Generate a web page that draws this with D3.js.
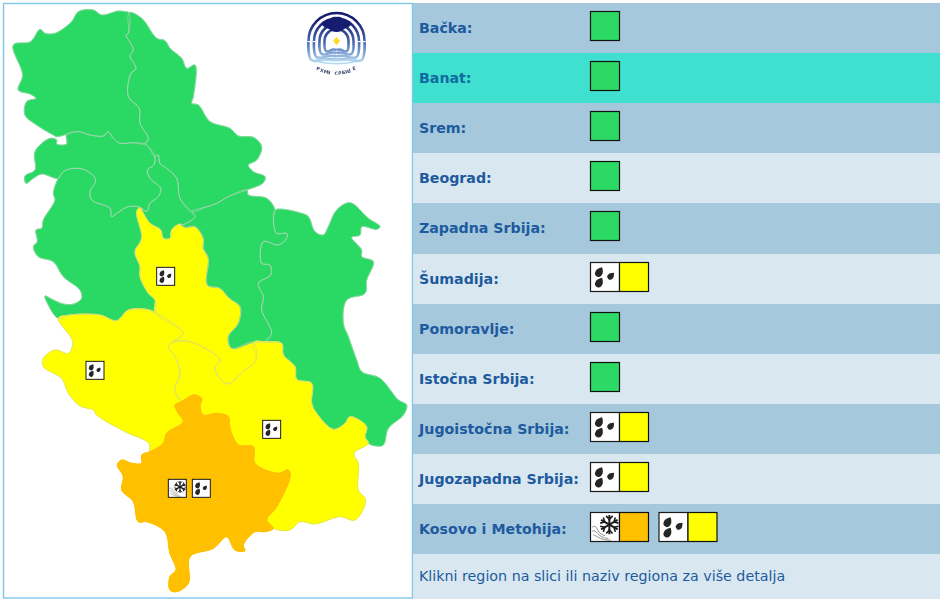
<!DOCTYPE html>
<html><head><meta charset="utf-8">
<script src="https://cdn.jsdelivr.net/npm/d3@7"></script>
<style>html,body{margin:0;padding:0;background:#fff;overflow:hidden}svg{display:block}</style>
</head><body><svg id="c" width="940" height="600"></svg>
<script>
// Outline data, in units of a 1245-wide survey of the map
const backa=[[387,38],[385,100],[378,105],[392,130],[400,150],[390,168],[408,205],[392,222],[385,290],[418,325],[420,370],[445,415],[435,432],[400,428],[360,430],[340,415],[325,395],[310,408],[270,405],[235,395],[200,403],[170,410],[160,405],[110,375],[75,345],[80,305],[108,295],[90,282],[55,270],[68,225],[40,135],[92,125],[120,88],[135,100],[165,100],[215,65],[235,35],[280,30],[305,45],[355,33],[375,35]];
const banat=[[387,38],[425,55],[470,115],[495,122],[510,145],[545,175],[560,205],[585,195],[580,290],[575,310],[595,315],[630,365],[690,385],[715,408],[760,412],[785,440],[770,480],[745,495],[760,515],[795,530],[790,548],[740,570],[685,590],[650,610],[615,622],[575,635],[540,595],[530,535],[500,505],[480,490],[475,465],[465,470],[445,440],[435,432],[445,415],[420,370],[418,325],[385,290],[392,222],[408,205],[390,168],[400,150],[392,130],[378,105],[385,100]];
const srem=[[435,432],[445,440],[465,470],[462,495],[442,510],[450,535],[482,565],[475,590],[450,610],[440,635],[420,622],[385,620],[350,640],[335,650],[330,625],[275,600],[270,575],[287,540],[260,512],[220,505],[190,515],[175,535],[125,522],[100,535],[78,550],[75,528],[105,510],[105,455],[150,415],[170,420],[170,432],[200,432],[200,403],[235,395],[270,405],[310,408],[325,395],[340,415],[360,430],[400,428]];
const beograd=[[465,470],[475,465],[480,490],[500,505],[530,535],[540,595],[575,635],[585,650],[545,675],[540,672],[515,690],[510,715],[490,715],[482,690],[450,670],[430,640],[420,622],[440,635],[450,610],[475,590],[482,565],[450,535],[442,510],[462,495]];
const zapadna=[[175,535],[160,580],[165,600],[130,660],[125,685],[108,690],[112,725],[100,740],[115,770],[160,785],[190,830],[240,870],[245,895],[222,912],[190,912],[160,900],[135,888],[140,905],[175,955],[210,945],[300,945],[350,962],[385,930],[440,928],[465,937],[465,900],[445,880],[420,830],[420,800],[405,755],[425,715],[410,635],[420,622],[385,620],[350,640],[335,650],[330,625],[275,600],[270,575],[287,540],[260,512],[220,505],[190,515]];
const sumadija=[[420,622],[430,640],[450,670],[482,690],[490,715],[510,715],[515,690],[540,672],[555,682],[585,680],[610,715],[610,745],[625,775],[622,855],[660,865],[688,895],[720,920],[715,970],[685,1010],[695,1045],[760,1027],[768,1080],[735,1110],[680,1152],[645,1105],[660,1080],[570,1025],[520,1025],[550,1000],[465,937],[465,900],[445,880],[420,830],[420,800],[405,755],[425,715],[410,635]];
const pomoravlje=[[575,635],[615,622],[650,610],[685,590],[740,570],[745,585],[800,595],[825,630],[820,660],[830,700],[860,700],[860,715],[835,735],[790,725],[785,790],[810,795],[812,825],[775,850],[790,890],[785,930],[815,1000],[795,1025],[760,1027],[695,1045],[685,1010],[715,970],[720,920],[688,895],[660,865],[622,855],[625,775],[610,745],[610,715],[585,680],[555,682],[540,672],[545,675],[585,650]];
const istocna=[[825,630],[905,640],[925,650],[945,695],[970,705],[985,680],[1010,630],[1050,608],[1105,655],[1140,680],[1130,688],[1085,680],[1080,705],[1055,712],[1085,750],[1085,770],[1120,785],[1100,840],[1095,880],[1040,900],[1030,970],[1045,1010],[1070,1080],[1085,1115],[1140,1135],[1195,1200],[1220,1215],[1210,1245],[1165,1285],[1150,1335],[1130,1338],[1105,1330],[1095,1310],[1100,1280],[1050,1250],[1035,1270],[1000,1288],[950,1240],[935,1210],[935,1150],[890,1138],[885,1100],[850,1065],[845,1030],[795,1025],[815,1000],[785,930],[790,890],[775,850],[812,825],[810,795],[785,790],[790,725],[835,735],[860,715],[860,700],[830,700],[820,660]];
const jugoistocna=[[520,1025],[505,1040],[525,1070],[540,1120],[525,1170],[545,1205],[580,1185],[605,1195],[600,1220],[610,1245],[650,1240],[685,1250],[690,1285],[715,1335],[760,1340],[765,1390],[835,1420],[865,1410],[870,1430],[830,1520],[800,1560],[820,1585],[870,1590],[900,1565],[945,1572],[1020,1550],[1065,1560],[1097,1500],[1075,1470],[1075,1390],[1062,1360],[1105,1330],[1095,1310],[1100,1280],[1050,1250],[1035,1270],[1000,1288],[950,1240],[935,1210],[935,1150],[890,1138],[885,1100],[850,1065],[845,1030],[795,1025],[760,1027],[768,1080],[735,1110],[680,1152],[645,1105],[660,1080],[570,1025]];
const jugozapadna=[[175,955],[210,945],[300,945],[350,962],[385,930],[440,928],[465,937],[550,1000],[520,1025],[505,1040],[525,1070],[540,1120],[525,1170],[545,1205],[525,1215],[535,1240],[550,1265],[500,1300],[490,1330],[450,1355],[447,1330],[375,1295],[290,1245],[280,1230],[240,1218],[205,1180],[185,1135],[130,1100],[130,1075],[165,1050],[205,1060],[218,1025]];
const kosovo=[[545,1205],[525,1215],[535,1240],[550,1265],[500,1300],[490,1330],[450,1355],[425,1365],[425,1390],[395,1390],[365,1380],[352,1395],[370,1430],[365,1470],[400,1505],[415,1565],[440,1565],[495,1595],[510,1660],[528,1710],[510,1730],[510,1770],[530,1775],[565,1750],[570,1670],[640,1645],[680,1610],[705,1650],[735,1652],[730,1635],[765,1595],[795,1595],[820,1585],[800,1560],[830,1520],[870,1430],[865,1410],[835,1420],[765,1390],[760,1340],[715,1335],[690,1285],[685,1250],[650,1240],[610,1245],[600,1220],[605,1195],[580,1185]];

const regionNames=["Bačka","Banat","Srem","Beograd","Zapadna Srbija","Šumadija","Pomoravlje","Istočna Srbija","Jugoistočna Srbija","Jugozapadna Srbija","Kosovo i Metohija"];
const regionShapes=[backa,banat,srem,beograd,zapadna,sumadija,pomoravlje,istocna,jugoistocna,jugozapadna,kosovo];
const regionLevels=[0,0,0,0,0,1,0,0,1,1,2];
const regionWarnings=[[],[],[],[],[],[["rain",1]],[],[],[["rain",1]],[["rain",1]],[["snow",2],["rain",1]]];
const mapIconAnchors=[null,null,null,null,null,[497,829],null,null,[815,1288],[285,1111],[532,1465]];
const highlightedRegion="Banat";
const footerText="Klikni region na slici ili naziv regiona za više detalja";
const logoCaption="РХМЗ СРБИЈЕ";

const levelColor=d3.scaleOrdinal().domain([0,1,2]).range(["#2bd964","#ffff00","#ffc000"]);
const svg=d3.select("#c");
const mx=d3.scaleLinear().domain([0,1245]).range([0,415]);
const my=d3.scaleLinear().domain([0,1800]).range([0,600]);
const line=d3.line().x(d=>mx(d[0])).y(d=>my(d[1])).curve(d3.curveCatmullRomClosed.alpha(.5));

const defs=svg.append("defs");
const lg=defs.append("linearGradient").attr("id","lg").attr("gradientUnits","userSpaceOnUse").attr("x1",0).attr("x2",0).attr("y1",20).attr("y2",62);
lg.append("stop").attr("offset",0).attr("stop-color","#141c70");
lg.append("stop").attr("offset",.55).attr("stop-color","#4a6db4");
lg.append("stop").attr("offset",1).attr("stop-color","#b4d8f0");
defs.append("filter").attr("id","soft").append("feGaussianBlur").attr("stdDeviation",.35);

// left frame
svg.append("rect").attr("x",3.5).attr("y",3.5).attr("width",409).attr("height",594.5).attr("fill","#fff").attr("stroke","#7fc6ea").attr("stroke-width",1.4);

// map
const mapG=svg.append("g").attr("filter","url(#soft)");
mapG.append("g").selectAll("path").data(regionShapes).join("path")
  .attr("d",d=>line(d))
  .attr("fill",(d,i)=>levelColor(regionLevels[i]))
  .attr("stroke",(d,i)=>levelColor(regionLevels[i]))
  .attr("stroke-width",.9).attr("stroke-linejoin","round");
mapG.append("g").selectAll("path").data(regionShapes).join("path")
  .attr("d",d=>line(d))
  .attr("fill","none")
  .attr("stroke",(d,i)=>regionLevels[i]===2?"none":regionLevels[i]===1?"#d4d48c":"#bcd4c0")
  .attr("stroke-width",.6);
mapG.append("path").attr("d",line(kosovo)).attr("fill",levelColor(2)).attr("stroke",levelColor(2)).attr("stroke-width",.9);

function drawIcon(g,type,x,y,s,sw){
  const u=d3.scaleLinear().domain([0,1]).range([0,s]);
  const ic=g.append("g").attr("transform",`translate(${x},${y})`);
  ic.append("rect").attr("width",s).attr("height",s).attr("fill","#fff").attr("stroke","#1a1a1a").attr("stroke-width",sw);
  if(type==="rain"){
    [[.30,.34,1.25,30],[.70,.47,1,42],[.30,.70,1.25,30]].forEach(p=>{
      const r=u(.1)*p[2];
      ic.append("path").attr("transform",`translate(${u(p[0])},${u(p[1])}) rotate(${p[3]})`)
        .attr("d",`M0,${-r*1.6}C${r*.8},${-r*.9} ${r*1.1},${-r*.2} ${r},${r*.3}A${r},${r} 0 1 1 ${-r},${r*.3}C${-r*1.1},${-r*.2} ${-r*.8},${-r*.9} 0,${-r*1.6}Z`)
        .attr("fill","#262626");
    });
  } else {
    const cx=u(.65),cy=u(.42),R=u(.33);
    d3.range(6).forEach(k=>{
      const a=k*Math.PI/3+Math.PI/2,ca=Math.cos(a),sa=Math.sin(a);
      ic.append("line").attr("x1",cx).attr("y1",cy).attr("x2",cx+R*ca).attr("y2",cy+R*sa).attr("stroke","#1c1c1c").attr("stroke-width",s*.07);
      [-.75,.75].forEach(o=>{
        ic.append("line").attr("x1",cx+R*.55*ca).attr("y1",cy+R*.55*sa)
          .attr("x2",cx+R*.55*ca+R*.5*Math.cos(a+o)).attr("y2",cy+R*.55*sa+R*.5*Math.sin(a+o))
          .attr("stroke","#1c1c1c").attr("stroke-width",s*.055);
      });
    });
    [[.06,.5,.3,.4,.14,.7,.5,.8],[.06,.64,.24,.58,.18,.84,.62,.9],[.1,.78,.2,.78,.3,.95,.7,.96]].forEach(w=>{
      ic.append("path").attr("fill","none").attr("stroke","#808080").attr("stroke-width",s*.03)
        .attr("d",`M${u(w[0])},${u(w[1])}C${u(w[2])},${u(w[3])} ${u(w[4])},${u(w[5])} ${u(w[6])},${u(w[7])}`);
    });
  }
}

// map icons
regionNames.forEach((n,i)=>{
  const a=mapIconAnchors[i]; if(!a) return;
  regionWarnings[i].forEach((w,k)=>{
    drawIcon(svg.append("g"),w[0],mx(a[0])-9+k*24,my(a[1])-9,18,1);
  });
});

// logo
const logo=svg.append("g").attr("filter","url(#soft)");
[28,22.5,17,12].forEach(r=>{
  const cx=336.5,cy=43,by=cy+r*.6;
  logo.append("path").attr("fill","none").attr("stroke","url(#lg)").attr("stroke-width",2.6)
    .attr("d",`M${cx},${by}C${cx-r*.4},${by-3} ${cx-r*.6},${by+3} ${cx-r*.85},${by+1}C${cx-r*1.05},${by} ${cx-r},${cy-r*.1} ${cx-r},${cy-2}A${r},${r} 0 0 1 ${cx+r},${cy-2}C${cx+r},${cy-r*.1} ${cx+r*1.05},${by} ${cx+r*.85},${by+1}C${cx+r*.6},${by+3} ${cx+r*.4},${by-3} ${cx},${by}`);
});
[60,63].forEach((y,i)=>logo.append("path").attr("fill","none").attr("stroke","#b4d8f0").attr("stroke-width",1.4)
  .attr("d",`M${316+i*3},${y-1}Q336,${y+2.5} ${357-i*3},${y-1}`));
logo.append("path").attr("fill","#141c70").attr("d","M322,25C320,21 326,20 329,21C330,17 335,16 336.5,17C339,16 343,17 344,21C347,20 353,21 351,25C348,28 346,28 344,29C341,33 332,33 329,29C327,28 325,28 322,25Z");
logo.append("path").attr("fill","#ffd92a").attr("d","M336.5,37L340,41L336.5,45L333,41Z");
// caption: each glyph is placed on a shallow arc below the emblem
const cap=Array.from(logoCaption),capX=d3.scaleLinear().domain([0,cap.length-1]).range([316,353]);
const capY=t=>75-((t-335)*(t-335))/70,capR=t=>-(t-335)*0.9;
logo.append("text").attr("font-family","DejaVu Sans").attr("font-size",4.6).attr("font-weight","bold").attr("fill","#3a4a70")
  .attr("x",cap.map((c,i)=>capX(i)).join(" "))
  .attr("y",cap.map((c,i)=>capY(capX(i))).join(" "))
  .attr("rotate",cap.map((c,i)=>capR(capX(i))).join(" "))
  .text(logoCaption);

// right panel rows
const rowEdges=[3,53,103,153,203,254,304,354,404,454,504,554,599];
const rowFill=(i)=>regionNames[i]===highlightedRegion?"#40e0d0":[0,2,4,6,8,10].includes(i)?"#a5c8dc":"#d9e8f0";
const panel=svg.append("g");
rowEdges.slice(0,-1).forEach((y,i)=>{
  panel.append("rect").attr("x",413).attr("y",y).attr("width",527).attr("height",rowEdges[i+1]-y).attr("fill",i<11?rowFill(i):"#d9e8f0");
});
regionNames.forEach((n,i)=>{
  const y0=rowEdges[i],cy=(y0+rowEdges[i+1])/2;
  panel.append("text").attr("x",419).attr("y",cy+4.5).attr("font-family","DejaVu Sans").attr("font-weight","bold").attr("font-size",14.2)
    .attr("fill",n===highlightedRegion?"#116a9e":"#1d5a9e").text(n+":");
  const top=y0+8.5;
  const ws=regionWarnings[i];
  if(!ws.length){
    panel.append("rect").attr("x",590.5).attr("y",top).attr("width",29).attr("height",29).attr("fill",levelColor(regionLevels[i])).attr("stroke","#111").attr("stroke-width",1.2);
  }
  ws.forEach((w,k)=>{
    const x=590.5+k*68.5;
    drawIcon(panel,w[0],x,top,29,1.2);
    panel.append("rect").attr("x",x+29).attr("y",top).attr("width",29).attr("height",29).attr("fill",levelColor(w[1])).attr("stroke","#111").attr("stroke-width",1.2);
  });
});
panel.append("text").attr("x",419).attr("y",581).attr("font-family","DejaVu Sans").attr("font-size",14.25).attr("fill","#1d5a9e").text(footerText);
</script></body></html>
